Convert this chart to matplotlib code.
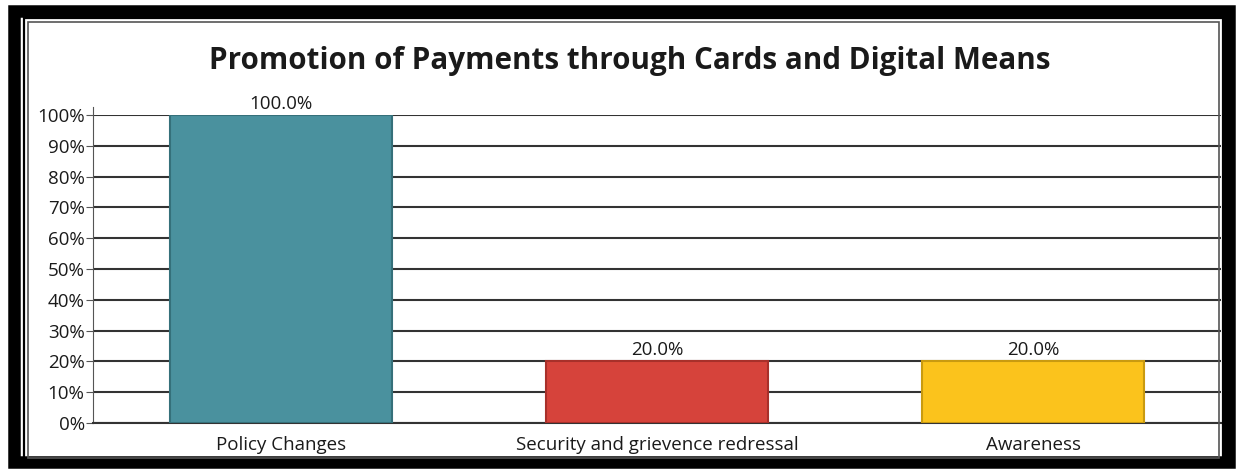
import matplotlib.pyplot as plt
from matplotlib.patches import Rectangle
from matplotlib.ticker import FuncFormatter, MultipleLocator

plt.rcParams["font.family"] = ["Open Sans", "DejaVu Sans"]

categories = ["Policy Changes", "Security and grievence redressal", "Awareness"]
values = [100.0, 20.0, 20.0]
colours = ["#4A919E", "#D6433B", "#FBC31C"]
edges = ["#35707A", "#A8302A", "#C99A10"]

W, H = 1243, 473
fig = plt.figure(figsize=(W / 100, H / 100), dpi=100)

# double frame round the chart
fig.patches.append(Rectangle((14 / W, 11 / H), 1 - 28 / W, 1 - 22 / H,
                             transform=fig.transFigure, fill=False,
                             edgecolor="black", linewidth=9))
fig.patches.append(Rectangle((24 / W, 12 / H), 1 - 44 / W, 1 - 30 / H,
                             transform=fig.transFigure, fill=False,
                             edgecolor="black", linewidth=1.6))
fig.patches.append(Rectangle((28 / W, 15 / H), 1 - 52 / W, 1 - 37 / H,
                             transform=fig.transFigure, fill=False,
                             edgecolor="#555555", linewidth=1.2))

ax = fig.add_axes([93 / W, 1 - 423 / H, (1221 - 93) / W, (423 - 115) / H])

x = range(len(categories))
bars = ax.bar(x, values, width=0.59, color=colours, edgecolor=edges,
              linewidth=1.5, zorder=3)
for bar, v in zip(bars, values):
    ax.text(bar.get_x() + bar.get_width() / 2, v + 0.8, f"{v:.1f}%",
            ha="center", va="bottom", fontsize=13.5, color="#1a1a1a")

ax.set_xlim(-0.5, len(categories) - 0.5)
ax.set_ylim(0, 100)
ax.yaxis.set_major_locator(MultipleLocator(10))
ax.yaxis.set_major_formatter(FuncFormatter(lambda v, p: f"{v:.0f}%"))
ax.set_xticks(list(x))
ax.set_xticklabels(categories)
ax.grid(axis="y", color="#333333", linewidth=1.5, zorder=0)
ax.set_axisbelow(True)

for side in ["top", "right"]:
    ax.spines[side].set_visible(False)
ax.spines["left"].set_color("#555555")
ax.spines["left"].set_bounds(0, 102.5)
ax.spines["bottom"].set_color("#333333")
ax.spines["bottom"].set_linewidth(1.5)
ax.tick_params(axis="y", length=5, color="#555555", labelsize=13.5,
               labelcolor="#1a1a1a", pad=1)
ax.tick_params(axis="x", length=0, labelsize=13.5, labelcolor="#1a1a1a", pad=9)
ax.set_clip_on(False)

fig.text(630 / W, 1 - 61 / H, "Promotion of Payments through Cards and Digital Means",
         ha="center", va="center", fontsize=21.3, fontweight="bold", color="#1a1a1a")

fig.savefig("out.png", dpi=100)
